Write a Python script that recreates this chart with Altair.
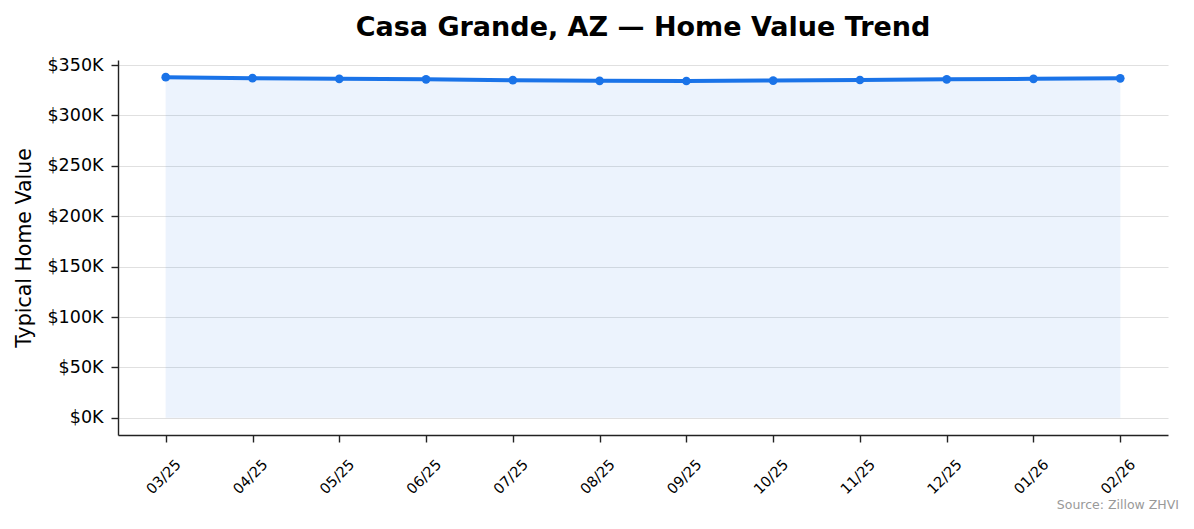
import altair as alt
import pandas as pd

months = ["03/25", "04/25", "05/25", "06/25", "07/25", "08/25",
          "09/25", "10/25", "11/25", "12/25", "01/26", "02/26"]
values = [338000, 337000, 336300, 335800, 335000, 334300,
          334200, 334600, 335200, 335800, 336300, 336800]

df = pd.DataFrame({"month": months, "value": values})

FONT = "DejaVu Sans"
W, H = 1050, 375
BLUE = "#1a73e8"

xenc = alt.X("month:O", sort=months, title=None,
             scale=alt.Scale(type="point", padding=0.55),
             axis=alt.Axis(labelAngle=-45, labelAlign="center", labelBaseline="middle",
                           labelFontSize=14.5, labelColor="#000", labelFont=FONT,
                           labelPadding=35, labelOffset=-2,
                           tickSize=7, tickColor="#222", domainColor="#222",
                           domainWidth=1.4, tickWidth=1.4, grid=False))
yscale = alt.Scale(domain=[-17000, 355000], nice=False, zero=False)
yaxis = alt.Axis(values=[0, 50000, 100000, 150000, 200000, 250000, 300000, 350000],
                 labelExpr='"$" + format(datum.value/1000, ".0f") + "K"',
                 labelFontSize=17.5, labelColor="#000", labelFont=FONT, labelPadding=8,
                 tickSize=7, tickColor="#222", domainColor="#222",
                 domainWidth=1.4, tickWidth=1.4,
                 grid=True, gridColor="#e0e0e0", gridWidth=1.2,
                 title="Typical Home Value", titleFontSize=20.5, titleFont=FONT,
                 titleFontWeight="normal", titleColor="#000", titlePadding=12)

base = alt.Chart(df)

area = base.mark_area(color=BLUE, opacity=0.08, stroke=BLUE, strokeOpacity=0.12,
                      strokeWidth=1).encode(
    x=xenc,
    y=alt.Y("value:Q", scale=yscale, axis=yaxis),
    y2=alt.datum(0),
)
line = base.mark_line(color=BLUE, strokeWidth=4).encode(
    x=alt.X("month:O", sort=months),
    y=alt.Y("value:Q"),
)
pts = base.mark_circle(color=BLUE, size=75, opacity=1).encode(
    x=alt.X("month:O", sort=months),
    y=alt.Y("value:Q"),
)
source = alt.Chart(pd.DataFrame({"t": ["Source: Zillow ZHVI"]})).mark_text(
    align="right", baseline="middle", font=FONT, fontSize=12.5, color="#999999"
).encode(x=alt.value(W + 11), y=alt.value(H + 70), text="t:N")

chart = alt.layer(area, line, pts, source).properties(
    width=W, height=H,
    view=alt.ViewBackground(strokeWidth=0, strokeOpacity=0),
    title=alt.TitleParams("Casa Grande, AZ — Home Value Trend", font=FONT,
                          fontSize=27, fontWeight="bold", color="#000",
                          anchor="middle", offset=14),
    autosize=alt.AutoSizeParams(type="none"),
    padding={"left": 110, "top": 52, "right": 18, "bottom": 86},
).configure_view(strokeWidth=0, strokeOpacity=0).configure(background="white")

chart.save("out.html", embed_options={"renderer": "svg", "actions": False})
